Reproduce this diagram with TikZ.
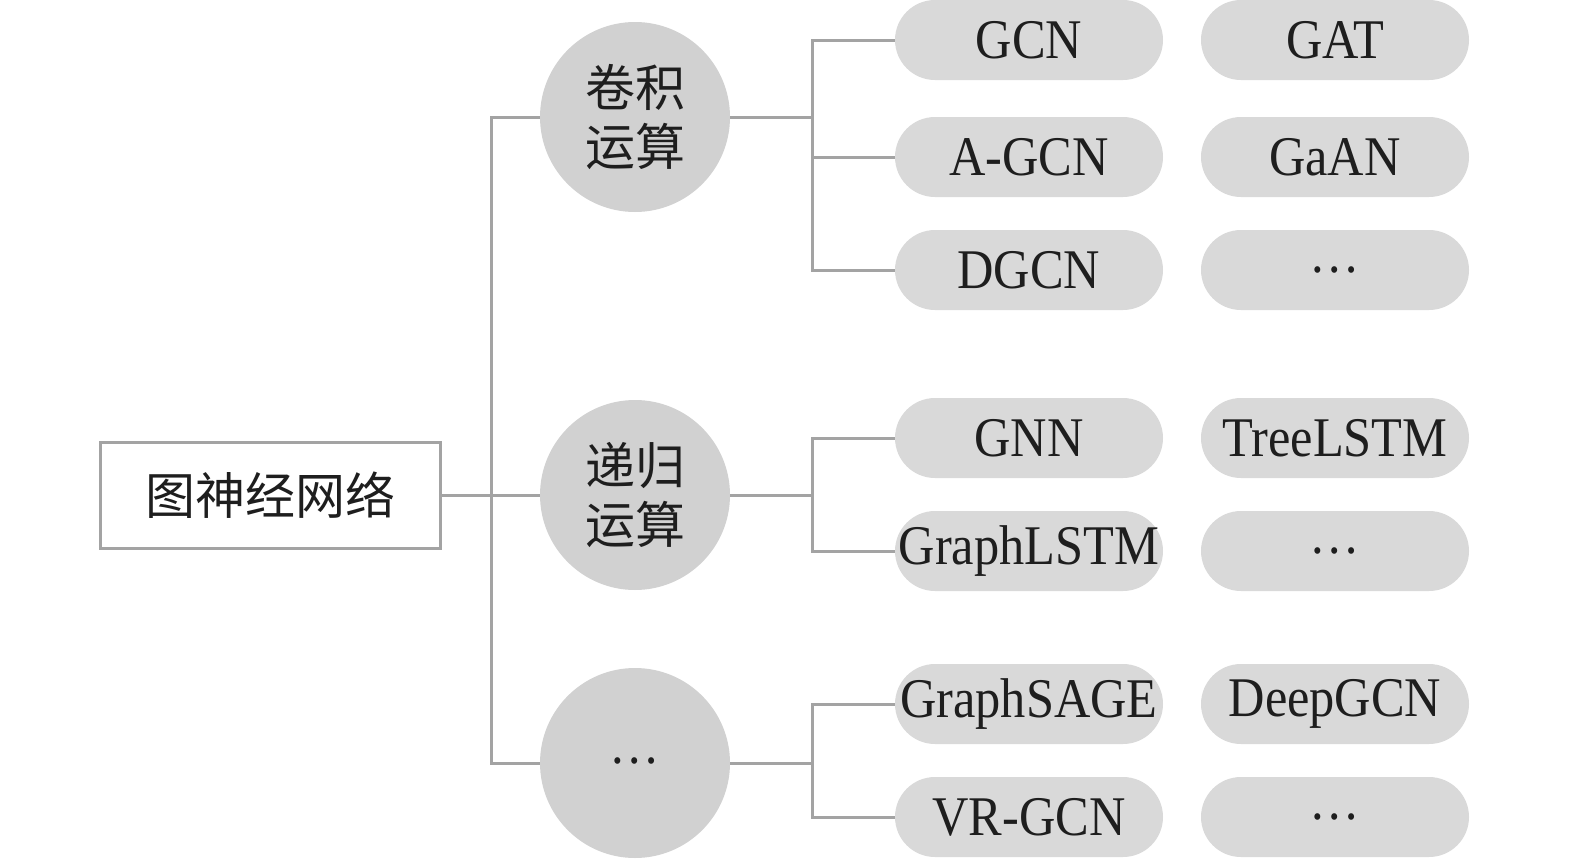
\documentclass[tikz,border=0pt]{standalone}
\usepackage{fontspec}
\newfontfamily\pillfont[FakeStretch=0.9]{Liberation Serif}
\newfontfamily\cjk{Noto Sans CJK SC}
\definecolor{linegray}{HTML}{A3A3A3}
\definecolor{pillgray}{HTML}{D9D9D9}
\definecolor{circgray}{HTML}{D1D1D1}
\definecolor{txt}{HTML}{1E1E1E}
\begin{document}
\begin{tikzpicture}[x=0.5pt,y=-0.5pt,
  conn/.style={draw=linegray,line width=1.5pt},
  pill/.style={fill=pillgray,rounded corners=20pt,minimum width=134pt,minimum height=40pt,inner sep=0pt,text=txt,font=\pillfont\fontsize{28}{30}\selectfont},
  opcirc/.style={circle,fill=circgray,minimum size=95pt,inner sep=0pt,text=txt,align=center,font=\cjk\fontsize{25}{29.5}\selectfont},
  rootbox/.style={draw=linegray,line width=1.5pt,minimum width=170pt,minimum height=53pt,inner sep=0pt,text=txt,font=\cjk\fontsize{25}{29}\selectfont}]
\useasboundingbox (0,0) rectangle (1575,862);
% nodes
\node[rootbox] (root) at (270,495) {图神经网络};
\node[opcirc] (c1) at (635,117) {卷积\\运算};
\node[opcirc] (c2) at (635,495) {递归\\运算};
\node[opcirc,font=\pillfont\fontsize{28}{30}\selectfont] (c3) at (635,763) {\raisebox{0.2ex}{…}};
% group 1
\node[pill] (p11) at (1029,40) {GCN};
\node[pill] (p12) at (1029,157) {A-GCN};
\node[pill] (p13) at (1029,270) {DGCN};
\node[pill] (q11) at (1335,40) {GAT};
\node[pill] (q12) at (1335,157) {GaAN};
\node[pill] (q13) at (1335,270) {…};
% group 2
\node[pill] (p21) at (1029,438) {GNN};
\node[pill] (p22) at (1029,551) {GraphLSTM};
\node[pill] (q21) at (1335,438) {TreeLSTM};
\node[pill] (q22) at (1335,551) {…};
% group 3
\node[pill] (p31) at (1029,704) {GraphSAGE};
\node[pill] (p32) at (1029,817) {VR-GCN};
\node[pill] (q31) at (1335,704) {DeepGCN};
\node[pill] (q32) at (1335,817) {…};
% trunk
\coordinate (t1) at (491,117);
\coordinate (t3) at (491,763);
\draw[conn] (root.east) -- (c2.west);
\draw[conn] (c1.west) -- (t1) -- (t3) -- (c3.west);
% branches
\coordinate (b1) at (812,117);
\coordinate (b2) at (812,495);
\coordinate (b3) at (812,763);
\draw[conn] (c1.east) -- (b1);
\draw[conn] (p11.west) -| (b1);
\draw[conn] (p12.west) -| (b1);
\draw[conn] (p13.west) -| (b1);
\draw[conn] (c2.east) -- (b2);
\draw[conn] (p21.west) -| (b2);
\draw[conn] (p22.west) -| (b2);
\draw[conn] (c3.east) -- (b3);
\draw[conn] (p31.west) -| (b3);
\draw[conn] (p32.west) -| (b3);
\end{tikzpicture}
\end{document}
